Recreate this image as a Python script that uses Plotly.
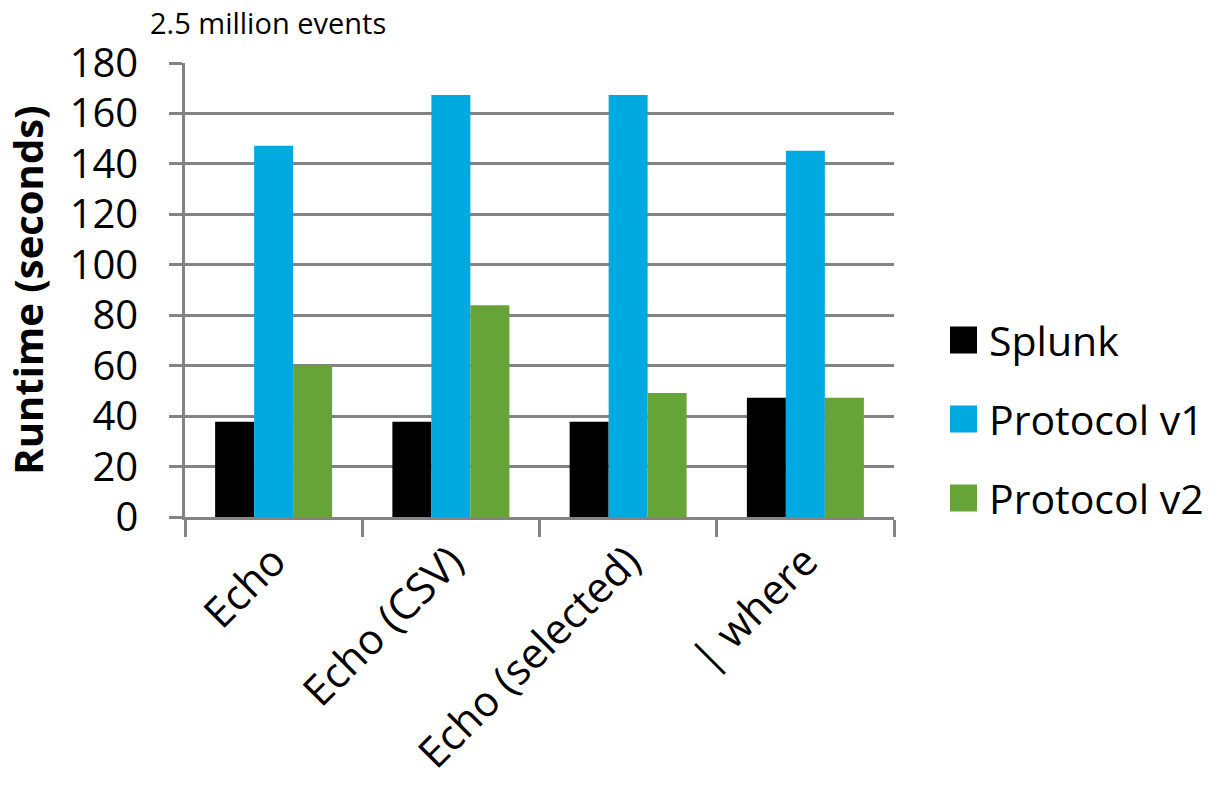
import plotly.graph_objects as go

categories = ["Echo", "Echo (CSV)", "Echo (selected)", "| where"]
series_names = ["Splunk", "Protocol v1", "Protocol v2"]
splunk = [37.8, 37.8, 37.8, 47.3]
protocol_v1 = [147.2, 167.3, 167.3, 145.2]
protocol_v2 = [60.0, 84.0, 49.2, 47.3]
y_ticks = [0, 20, 40, 60, 80, 100, 120, 140, 160, 180]

colors = ["#000000", "#00A9E0", "#67A438"]
values = [splunk, protocol_v1, protocol_v2]
FONT = "Open Sans"
GRID = "#838383"

fig = go.Figure()
for name, vals, col in zip(series_names, values, colors):
    fig.add_trace(go.Bar(x=categories, y=vals, name=name, marker_color=col,
                         marker_line_width=0, showlegend=False))

# plot area in pixels
L, R, T, B = 185, 894, 63, 517
W, H = 1213, 786
pw, ph = R - L, B - T

def px_to_paper_x(px):
    return (px - L) / pw

def px_to_paper_y(py):
    return (B - py) / ph

shapes = []
annotations = []
legend_y = [340, 419, 498]
for name, col, ly in zip(series_names, colors, legend_y):
    shapes.append(dict(type="rect", xref="paper", yref="paper",
                       x0=px_to_paper_x(950), x1=px_to_paper_x(977),
                       y0=px_to_paper_y(ly + 13.5), y1=px_to_paper_y(ly - 13.5),
                       fillcolor=col, line_width=0))
    annotations.append(dict(text=name, xref="paper", yref="paper",
                            x=px_to_paper_x(987), y=px_to_paper_y(ly),
                            xanchor="left", yanchor="middle", showarrow=False,
                            font=dict(family=FONT, size=41, color="#000000")))

annotations.append(dict(text="2.5 million events", xref="paper", yref="paper",
                        x=px_to_paper_x(148), y=px_to_paper_y(22),
                        xanchor="left", yanchor="middle", showarrow=False,
                        font=dict(family=FONT, size=29, color="#000000")))

fig.update_layout(
    width=W, height=H,
    margin=dict(l=L, r=W - R, t=T, b=H - B, autoexpand=False),
    paper_bgcolor="white", plot_bgcolor="white",
    barmode="group", bargap=0.34, bargroupgap=0,
    font=dict(family=FONT, color="#000000"),
    shapes=shapes, annotations=annotations,
    showlegend=False,
)
fig.update_yaxes(
    range=[0, 180], tickvals=y_ticks, ticktext=[str(v) for v in y_ticks],
    showgrid=True, gridcolor=GRID, gridwidth=2.5,
    showline=True, linecolor=GRID, linewidth=2.5,
    ticks="outside", ticklen=13, tickwidth=2.5, tickcolor=GRID,
    ticklabelstandoff=23,
    tickfont=dict(family=FONT, size=40, color="#000000"),
    title=dict(text="<b>Runtime (seconds)</b>", standoff=14,
               font=dict(family=FONT, size=40, color="#000000")),
    zeroline=False, fixedrange=True,
)
fig.update_xaxes(
    type="category", showgrid=False,
    showline=True, linecolor=GRID, linewidth=2.5,
    ticks="outside", tickson="boundaries", ticklen=17, tickwidth=2.5, tickcolor=GRID,
    tickangle=-45,
    tickfont=dict(family=FONT, size=42, color="#000000"),
    fixedrange=True,
)

fig.write_html("out.html")
